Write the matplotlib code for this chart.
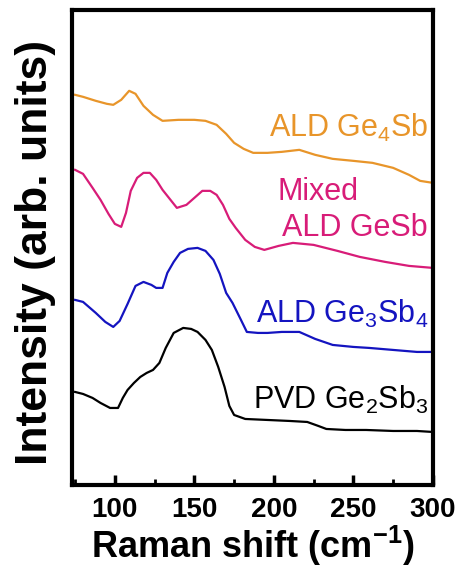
import numpy as np
import matplotlib
matplotlib.use('Agg')
import matplotlib.pyplot as plt
from matplotlib.ticker import MultipleLocator

plt.rcParams['font.family'] = ['Liberation Sans', 'DejaVu Sans']
plt.rcParams['mathtext.fontset'] = 'custom'
plt.rcParams['mathtext.rm'] = 'Liberation Sans'
plt.rcParams['mathtext.it'] = 'Liberation Sans'
plt.rcParams['mathtext.bf'] = 'Liberation Sans:bold'

#%% Data (arbitrary units)
x_ge4sb = [75, 80, 88, 95, 99, 104, 109, 113, 118, 124, 130, 140, 150, 157, 164, 170, 175, 181, 187, 196, 205, 216, 226, 237, 250, 262, 275, 285, 292, 300]
y_ge4sb = [481, 479, 475, 472, 471, 476, 485, 482, 470, 461, 455, 456, 456, 455, 451, 442, 433, 427, 423, 423, 424, 426, 421, 417, 415, 413, 408, 401, 395, 393]

x_mixed = [75, 80, 86, 91, 96, 100, 104, 107, 110, 114, 118, 122, 126, 130, 135, 139, 145, 150, 155, 160, 164, 168, 172, 176, 182, 188, 194, 203, 212, 225, 240, 254, 270, 285, 300]
y_mixed = [406, 402, 388, 376, 362, 352, 349, 363, 385, 398, 403, 403, 396, 386, 376, 368, 371, 378, 385, 385, 381, 371, 357, 348, 336, 329, 326, 330, 333, 331, 325, 319, 314, 310, 308]

x_ge3sb4 = [75, 80, 88, 94, 99, 103, 108, 113, 118, 123, 126, 130, 133, 137, 141, 146, 152, 157, 162, 166, 170, 174, 179, 183, 190, 196, 205, 216, 226, 237, 250, 260, 275, 290, 300]
y_ge3sb4 = [276, 274, 263, 254, 249, 255, 272, 290, 294, 291, 288, 288, 303, 314, 323, 327, 328, 325, 316, 302, 283, 273, 257, 244, 243, 243, 244, 244, 237, 231, 229, 228, 226, 224, 224]

x_ge2sb3 = [75, 80, 86, 91, 97, 102, 105, 108, 112, 116, 120, 124, 128, 132, 137, 143, 148, 152, 157, 161, 165, 169, 172, 175, 182, 196, 210, 221, 228, 233, 245, 258, 275, 290, 300]
y_ge2sb3 = [184, 182, 178, 173, 168, 168, 178, 186, 193, 199, 203, 206, 213, 228, 243, 248, 247, 244, 236, 226, 209, 189, 170, 161, 157, 156, 155, 154, 150, 147, 146, 146, 145, 145, 144]

xticks = [100, 150, 200, 250, 300]

c_orange = '#e8952a'
c_mixed = '#d81c78'
c_blue = '#1414c0'
c_black = '#000000'

#%% Plot
fig = plt.figure(figsize=(4.61, 5.76), dpi=100)
ax = fig.add_axes([0.156, 0.158, 0.783, 0.825])

ax.plot(x_ge4sb, y_ge4sb, color=c_orange, lw=1.6)
ax.plot(x_mixed, y_mixed, color=c_mixed, lw=1.6)
ax.plot(x_ge3sb4, y_ge3sb4, color=c_blue, lw=1.6)
ax.plot(x_ge2sb3, y_ge2sb3, color=c_black, lw=1.6)

ax.set_xlim(73, 300)
ax.set_ylim(91, 566)
ax.set_yticks([])
ax.set_xticks(xticks)
ax.xaxis.set_minor_locator(MultipleLocator(25))
ax.tick_params(axis='x', which='major', direction='in', length=7, width=2.5,
               labelsize=20, pad=9)
ax.tick_params(axis='x', which='minor', direction='in', length=4, width=2)
for lab in ax.get_xticklabels():
    lab.set_fontweight('bold')
for s in ax.spines.values():
    s.set_linewidth(3)

ax.set_xlabel('Raman shift (cm$^{\\mathbf{-1}}$)', fontsize=26, fontweight='bold', labelpad=0)
ax.set_ylabel('Intensity (arb. units)', fontsize=32, fontweight='bold')
ax.yaxis.set_label_coords(-0.045, 0.49)

ax.text(297, 448, 'ALD Ge$_4$Sb', color=c_orange, fontsize=22, ha='right', va='center')
ax.text(228, 384, 'Mixed', color=c_mixed, fontsize=22, ha='center', va='center')
ax.text(297, 348, 'ALD GeSb', color=c_mixed, fontsize=22, ha='right', va='center')
ax.text(297, 262, 'ALD Ge$_3$Sb$_4$', color=c_blue, fontsize=22, ha='right', va='center')
ax.text(297, 176, 'PVD Ge$_2$Sb$_3$', color=c_black, fontsize=22, ha='right', va='center')

fig.savefig('out.png', dpi=100)
